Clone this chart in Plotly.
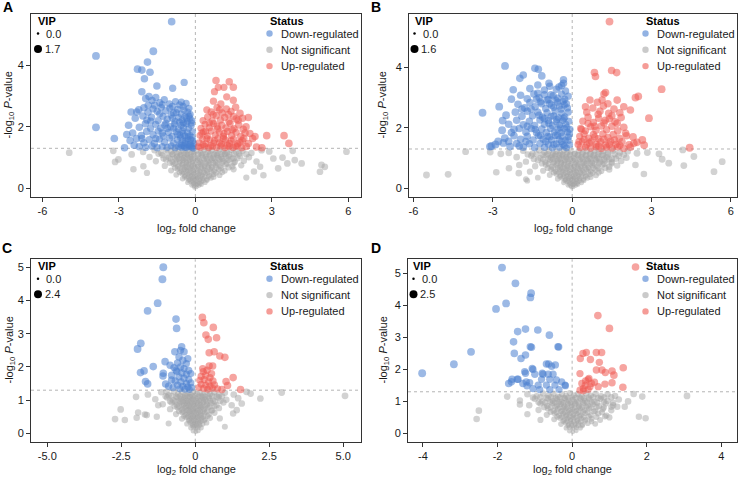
import plotly.graph_objects as go

# ---------------- data: (log2 fold change, -log10 P, VIP) ----------------
A_down = [
(-0.93,5.41,1.5),(-3.90,4.30,1.6),(-1.65,4.45,1.6),(-1.88,4.10,1.5),(-2.27,3.87,1.5),(-2.10,3.84,1.5),(-1.78,3.77,1.5),(-2.00,3.56,1.4),
(-0.44,3.44,1.3),(-0.89,3.25,1.3),(-2.10,3.14,1.4),(-1.51,3.32,1.4),(-3.90,1.98,1.6),(-3.18,1.62,1.5),(-2.78,1.32,1.5),(-2.69,1.75,1.5),
(-2.52,2.48,1.5),(-2.30,2.48,1.4),
(-1.95,2.92,1.4),(-1.82,2.98,1.4),(-1.70,2.85,1.4),(-1.55,2.95,1.3),(-1.40,2.78,1.3),(-1.22,2.88,1.3),(-1.02,2.74,1.3),(-0.78,2.82,1.2),
(-0.62,2.71,1.2),(-0.48,2.66,1.2),(-0.36,2.76,1.2),
(-2.22,2.55,1.4),(-2.02,2.62,1.4),(-1.86,2.47,1.4),(-1.66,2.58,1.3),(-1.50,2.50,1.3),(-1.34,2.63,1.3),(-1.16,2.52,1.3),(-1.00,2.60,1.3),
(-0.86,2.45,1.2),(-0.70,2.57,1.2),(-0.56,2.42,1.2),(-0.44,2.54,1.2),(-0.30,2.48,1.2),(-0.20,2.40,1.1),
(-2.36,2.28,1.4),(-2.06,2.35,1.4),(-1.90,2.22,1.4),(-1.72,2.31,1.3),(-1.46,2.20,1.3),(-1.27,2.34,1.3),(-1.10,2.25,1.3),(-0.95,2.38,1.3),
(-0.80,2.18,1.2),(-0.66,2.30,1.2),(-0.52,2.22,1.2),(-0.41,2.33,1.2),(-0.31,2.17,1.2),(-0.21,2.27,1.1),(-0.13,2.20,1.1),
(-2.62,2.05,1.5),(-2.20,1.98,1.4),(-1.96,2.10,1.4),(-1.76,1.95,1.3),(-1.56,2.08,1.3),(-1.36,1.96,1.3),(-1.16,2.12,1.3),(-0.97,2.00,1.3),
(-0.82,2.09,1.2),(-0.67,1.93,1.2),(-0.56,2.05,1.2),(-0.46,1.97,1.2),(-0.36,2.10,1.2),(-0.26,1.94,1.1),(-0.16,2.04,1.1),
(-2.46,1.80,1.4),(-2.12,1.72,1.4),(-1.91,1.85,1.4),(-1.66,1.74,1.3),(-1.46,1.86,1.3),(-1.26,1.70,1.3),(-1.06,1.82,1.3),(-0.91,1.69,1.2),
(-0.76,1.84,1.2),(-0.61,1.73,1.2),(-0.51,1.86,1.2),(-0.41,1.70,1.2),(-0.31,1.81,1.1),(-0.21,1.72,1.1),(-0.11,1.84,1.1),
(-2.56,1.55,1.5),(-2.31,1.62,1.4),(-2.02,1.48,1.4),(-1.81,1.58,1.3),(-1.61,1.46,1.3),(-1.41,1.60,1.3),(-1.21,1.50,1.3),(-1.01,1.63,1.2),
(-0.86,1.47,1.2),(-0.71,1.58,1.2),(-0.60,1.44,1.2),(-0.50,1.56,1.2),(-0.40,1.47,1.1),(-0.30,1.60,1.1),(-0.20,1.45,1.1),(-0.10,1.55,1.1),
(-2.20,1.35,1.4),(-1.95,1.33,1.3),(-1.70,1.37,1.3),(-1.50,1.32,1.3),(-1.30,1.36,1.2),(-1.10,1.33,1.2),(-0.95,1.38,1.2),(-0.80,1.32,1.2),
(-0.66,1.36,1.2),(-0.55,1.33,1.1),(-0.45,1.38,1.1),(-0.35,1.32,1.1),(-0.25,1.36,1.1),(-0.15,1.33,1.1),(-0.08,1.37,1.0),
(-1.60,2.70,1.3),(-1.30,2.72,1.3),(-0.90,2.66,1.3),(-0.55,2.80,1.2),(-0.25,2.60,1.2),(-0.58,1.65,1.2),(-0.48,1.78,1.2),(-0.38,1.55,1.1),
(-0.28,1.68,1.1),(-0.18,1.58,1.1),(-0.12,1.65,1.1),(-0.05,1.45,1.0),(-0.62,2.15,1.2),(-0.47,2.12,1.2),(-0.35,2.28,1.2),(-0.25,2.35,1.1),
(-0.15,2.12,1.1),(-0.55,1.40,1.1),(-0.42,1.33,1.1),(-0.30,1.42,1.1),(-0.18,1.38,1.1),(-0.08,1.30,1.0),(-0.70,1.75,1.2),(-0.85,1.95,1.2),
(-1.10,1.95,1.3),(-1.30,1.80,1.3),(-1.55,1.62,1.3),(-1.75,2.18,1.3),(-1.40,2.42,1.3),(-1.85,2.70,1.4),(-2.10,1.62,1.4),(-2.40,1.40,1.4),
(-1.20,2.05,1.3),(-0.90,2.28,1.2),(-0.75,2.46,1.2),
]
A_up = [
(0.81,3.50,1.4),(1.33,3.46,1.4),(1.49,3.28,1.4),(0.90,3.28,1.3),(1.12,3.28,1.3),(0.75,3.14,1.3),(1.23,2.97,1.3),(0.71,2.83,1.3),
(1.00,2.74,1.3),(1.49,2.86,1.3),(2.08,2.30,1.4),(1.99,2.00,1.4),(2.14,1.78,1.4),(2.80,1.71,1.5),(3.48,1.71,1.5),(3.67,1.46,1.5),
(2.61,1.32,1.5),(2.34,1.68,1.4),(2.08,1.46,1.4),
(0.45,2.55,1.3),(0.62,2.48,1.3),(0.85,2.62,1.3),(1.05,2.45,1.3),(1.22,2.58,1.3),(1.40,2.50,1.3),(1.58,2.63,1.4),(1.75,2.44,1.4),
(0.30,2.20,1.2),(0.48,2.32,1.2),(0.66,2.18,1.3),(0.82,2.36,1.3),(0.98,2.22,1.3),(1.15,2.30,1.3),(1.32,2.17,1.3),(1.50,2.34,1.3),(1.68,2.21,1.4),(1.85,2.28,1.4),
(0.22,1.95,1.2),(0.38,2.08,1.2),(0.55,1.97,1.2),(0.72,2.10,1.3),(0.88,1.93,1.3),(1.04,2.05,1.3),(1.20,1.96,1.3),(1.36,2.11,1.3),(1.52,1.94,1.3),(1.70,2.06,1.4),(1.88,1.92,1.4),
(0.18,1.72,1.1),(0.32,1.84,1.2),(0.47,1.70,1.2),(0.62,1.86,1.2),(0.78,1.73,1.2),(0.94,1.83,1.3),(1.10,1.69,1.3),(1.26,1.85,1.3),(1.42,1.72,1.3),(1.60,1.82,1.3),(1.78,1.68,1.4),(1.95,1.80,1.4),
(0.15,1.48,1.1),(0.28,1.60,1.1),(0.42,1.45,1.2),(0.57,1.58,1.2),(0.72,1.47,1.2),(0.88,1.62,1.2),(1.03,1.44,1.2),(1.18,1.57,1.3),(1.34,1.46,1.3),(1.50,1.60,1.3),(1.66,1.45,1.3),(1.84,1.55,1.4),(2.25,1.62,1.4),
(0.20,1.33,1.1),(0.36,1.37,1.1),(0.52,1.32,1.1),(0.68,1.36,1.2),(0.84,1.33,1.2),(1.00,1.38,1.2),(1.16,1.32,1.2),(1.32,1.36,1.2),(1.48,1.33,1.3),(1.64,1.37,1.3),(1.82,1.32,1.3),(2.00,1.36,1.4),(2.40,1.34,1.4),
(0.30,1.42,1.1),(0.45,1.62,1.2),(0.60,1.38,1.2),(0.75,1.55,1.2),(0.95,1.48,1.2),(1.10,1.62,1.3),(1.25,1.40,1.3),(1.40,1.55,1.3),
(1.58,1.38,1.3),(1.75,1.50,1.3),(0.40,1.85,1.2),(0.55,2.12,1.2),(0.85,2.02,1.3),(1.12,1.78,1.3),(1.45,1.90,1.3),(1.60,2.25,1.4),
(0.70,2.40,1.3),(1.30,2.40,1.3),(0.95,2.55,1.3),(1.90,1.62,1.4),(0.25,1.80,1.1),(0.12,1.35,1.1),
]
A_ns = [
(-2.05,1.18,0.9),(-1.60,1.24,0.9),(-1.35,1.15,0.8),(-1.15,1.26,0.8),(-0.95,1.19,0.8),(-0.80,1.27,0.8),(-0.65,1.16,0.8),(-0.50,1.23,0.8),
(-0.38,1.14,0.7),(-0.25,1.25,0.7),(-0.12,1.18,0.7),(0.05,1.22,0.7),(0.20,1.15,0.7),(0.35,1.26,0.8),(0.50,1.19,0.8),(0.65,1.24,0.8),
(0.80,1.14,0.8),(0.95,1.27,0.8),(1.10,1.20,0.8),(1.25,1.16,0.8),(1.40,1.25,0.9),(1.60,1.18,0.9),(1.85,1.22,0.9),(2.20,1.15,0.9),(2.60,1.24,1.0),
(-1.80,1.02,0.9),(-1.30,1.08,0.8),(-1.05,1.00,0.8),(-0.88,1.10,0.8),(-0.72,1.03,0.8),(-0.58,1.07,0.7),(-0.45,0.99,0.7),(-0.32,1.09,0.7),
(-0.20,1.02,0.7),(-0.08,1.06,0.6),(0.10,1.00,0.6),(0.25,1.09,0.7),(0.40,1.03,0.7),(0.55,1.07,0.7),(0.70,0.99,0.8),(0.85,1.08,0.8),
(1.00,1.02,0.8),(1.15,1.10,0.8),(1.30,1.04,0.8),(1.50,0.98,0.9),(1.75,1.06,0.9),(2.10,1.01,0.9),
(-1.55,0.88,0.8),(-1.15,0.93,0.8),(-0.90,0.86,0.7),(-0.75,0.94,0.7),(-0.60,0.87,0.7),(-0.46,0.92,0.7),(-0.34,0.85,0.6),(-0.22,0.93,0.6),
(-0.10,0.88,0.6),(0.08,0.92,0.6),(0.20,0.85,0.6),(0.35,0.94,0.7),(0.50,0.87,0.7),(0.65,0.91,0.7),(0.80,0.85,0.7),(0.95,0.93,0.8),
(1.10,0.88,0.8),(1.30,0.92,0.8),(1.55,0.86,0.8),(1.90,0.90,0.9),(2.40,0.87,0.9),
(-1.20,0.73,0.8),(-0.85,0.78,0.7),(-0.68,0.71,0.7),(-0.52,0.77,0.6),(-0.40,0.70,0.6),(-0.28,0.78,0.6),(-0.16,0.72,0.5),(-0.05,0.76,0.5),
(0.10,0.71,0.5),(0.22,0.78,0.6),(0.36,0.72,0.6),(0.50,0.77,0.6),(0.64,0.70,0.7),(0.80,0.76,0.7),(0.98,0.72,0.7),(1.20,0.78,0.8),(1.45,0.71,0.8),(1.80,0.75,0.8),
(-0.95,0.58,0.7),(-0.70,0.63,0.7),(-0.55,0.56,0.6),(-0.42,0.62,0.6),(-0.30,0.57,0.5),(-0.19,0.63,0.5),(-0.08,0.58,0.5),(0.06,0.62,0.5),
(0.18,0.56,0.5),(0.30,0.63,0.5),(0.44,0.57,0.6),(0.58,0.62,0.6),(0.74,0.56,0.6),(0.92,0.61,0.7),(1.15,0.57,0.7),(1.50,0.62,0.8),
(-0.75,0.44,0.6),(-0.52,0.48,0.6),(-0.40,0.42,0.5),(-0.28,0.47,0.5),(-0.17,0.43,0.4),(-0.07,0.48,0.4),(0.05,0.42,0.4),(0.15,0.47,0.4),
(0.27,0.43,0.5),(0.40,0.48,0.5),(0.55,0.42,0.5),(0.72,0.46,0.6),(0.95,0.43,0.6),
(-0.50,0.31,0.5),(-0.34,0.34,0.5),(-0.22,0.29,0.4),(-0.12,0.33,0.4),(-0.03,0.30,0.3),(0.08,0.34,0.3),(0.18,0.29,0.4),(0.30,0.33,0.4),(0.45,0.30,0.5),(0.62,0.34,0.5),
(-0.30,0.19,0.4),(-0.18,0.22,0.4),(-0.08,0.18,0.3),(0.03,0.21,0.3),(0.12,0.18,0.3),(0.24,0.22,0.4),(0.38,0.19,0.4),
(-0.15,0.10,0.3),(-0.05,0.08,0.3),(0.05,0.11,0.3),(0.14,0.09,0.3),(0.24,0.12,0.3),(-0.04,0.03,0.2),(0.04,0.04,0.2),
(-1.45,1.12,0.8),(-1.10,1.13,0.8),(-0.90,1.11,0.8),(-0.72,1.13,0.8),(-0.57,1.10,0.7),(-0.44,1.13,0.7),(-0.31,1.11,0.7),(-0.18,1.12,0.7),
(-0.05,1.13,0.7),(0.12,1.11,0.7),(0.28,1.13,0.7),(0.42,1.11,0.7),(0.58,1.13,0.8),(0.73,1.10,0.8),(0.88,1.13,0.8),(1.03,1.11,0.8),
(1.18,1.13,0.8),(1.34,1.10,0.8),(1.52,1.12,0.9),(1.72,1.13,0.9),(2.00,1.11,0.9),
(-1.25,0.97,0.8),(-0.98,0.96,0.7),(-0.80,0.98,0.7),(-0.66,0.96,0.7),(-0.52,0.97,0.7),(-0.39,0.96,0.6),(-0.27,0.98,0.6),(-0.14,0.96,0.6),
(-0.02,0.97,0.6),(0.15,0.96,0.6),(0.30,0.98,0.6),(0.45,0.96,0.7),(0.60,0.97,0.7),(0.75,0.96,0.7),(0.90,0.98,0.8),(1.06,0.96,0.8),(1.22,0.97,0.8),(1.42,0.96,0.8),(1.65,0.98,0.9),
(-1.00,0.82,0.7),(-0.78,0.81,0.7),(-0.63,0.83,0.6),(-0.49,0.81,0.6),(-0.36,0.82,0.6),(-0.24,0.81,0.5),(-0.12,0.83,0.5),(0.00,0.81,0.5),
(0.14,0.82,0.5),(0.28,0.81,0.6),(0.42,0.83,0.6),(0.56,0.81,0.6),(0.71,0.82,0.7),(0.87,0.81,0.7),(1.05,0.83,0.7),(1.25,0.81,0.8),(1.50,0.82,0.8),
(-0.80,0.67,0.7),(-0.60,0.66,0.6),(-0.47,0.68,0.6),(-0.35,0.66,0.5),(-0.24,0.67,0.5),(-0.13,0.66,0.5),(-0.02,0.68,0.5),(0.12,0.66,0.5),
(0.24,0.67,0.5),(0.37,0.66,0.6),(0.50,0.68,0.6),(0.65,0.66,0.6),(0.82,0.67,0.7),(1.02,0.66,0.7),(1.30,0.68,0.8),
(-0.62,0.52,0.6),(-0.46,0.51,0.5),(-0.34,0.53,0.5),(-0.23,0.51,0.5),(-0.12,0.52,0.4),(-0.02,0.51,0.4),(0.10,0.53,0.4),(0.21,0.51,0.5),
(0.34,0.52,0.5),(0.48,0.51,0.5),(0.63,0.53,0.6),(0.82,0.51,0.6),(1.05,0.52,0.7),
(-0.42,0.38,0.5),(-0.28,0.37,0.5),(-0.17,0.39,0.4),(-0.07,0.37,0.4),(0.02,0.38,0.3),(0.12,0.37,0.4),(0.23,0.39,0.4),(0.36,0.37,0.5),(0.52,0.38,0.5),(0.72,0.37,0.6),
(-0.26,0.26,0.4),(-0.13,0.25,0.4),(-0.03,0.27,0.3),(0.07,0.25,0.3),(0.17,0.26,0.3),(0.30,0.25,0.4),(0.46,0.26,0.4),
(-0.10,0.14,0.3),(0.00,0.15,0.3),(0.09,0.13,0.3),(0.19,0.15,0.3),
(-4.95,1.16,1.0),(-3.22,1.22,1.0),(-3.02,0.94,1.0),(-3.15,0.86,1.0),(-2.43,0.62,0.9),(-2.04,0.72,0.9),(-2.50,1.10,1.0),(-1.90,0.50,0.8),
(3.06,0.97,1.0),(3.42,1.00,1.0),(3.61,0.81,1.0),(3.82,1.22,1.0),(3.90,0.92,1.0),(4.17,0.81,1.0),(4.89,0.54,1.0),(4.95,0.76,1.0),
(5.08,0.70,1.0),(5.93,1.19,1.0),(3.25,0.65,1.0),(2.67,0.43,0.9),(2.54,0.70,0.9),(2.90,1.20,1.0),(2.30,0.55,0.9),(2.00,0.35,0.8),
]

B_down = [
(-2.54,4.05,1.5),(-1.41,3.97,1.4),(-1.28,3.94,1.4),(-1.85,3.75,1.4),(-1.98,3.64,1.4),(-1.15,3.72,1.4),(-0.33,3.59,1.3),(-0.33,3.48,1.3),
(-2.23,3.26,1.4),(-0.88,3.48,1.3),(-3.39,2.50,1.5),(-2.76,2.70,1.5),(-2.63,2.24,1.5),(-3.05,1.40,1.5),(-2.80,1.55,1.5),(-3.11,1.38,1.5),
(-1.60,3.30,1.4),(-1.30,3.42,1.3),(-1.05,3.25,1.3),(-0.85,3.38,1.3),(-0.60,3.28,1.3),(-0.40,3.40,1.3),(-0.25,3.22,1.2),
(-2.30,2.95,1.4),(-1.95,3.08,1.4),(-1.70,2.96,1.4),(-1.45,3.12,1.3),(-1.25,3.00,1.3),(-1.05,3.10,1.3),(-0.90,2.94,1.3),(-0.72,3.06,1.3),(-0.55,2.98,1.2),(-0.40,3.12,1.2),(-0.28,2.95,1.2),(-0.15,3.05,1.2),
(-2.05,2.78,1.4),(-1.80,2.66,1.4),(-1.60,2.84,1.3),(-1.40,2.70,1.3),(-1.20,2.86,1.3),(-1.00,2.64,1.3),(-0.85,2.80,1.3),(-0.70,2.68,1.2),(-0.55,2.85,1.2),(-0.42,2.62,1.2),(-0.30,2.76,1.2),(-0.18,2.66,1.2),
(-2.50,2.42,1.5),(-2.15,2.52,1.4),(-1.90,2.38,1.4),(-1.70,2.55,1.3),(-1.50,2.40,1.3),(-1.30,2.52,1.3),(-1.12,2.35,1.3),(-0.95,2.50,1.3),(-0.80,2.38,1.2),(-0.65,2.56,1.2),(-0.52,2.34,1.2),(-0.40,2.48,1.2),(-0.28,2.36,1.2),(-0.15,2.52,1.1),
(-2.40,2.12,1.4),(-2.10,2.25,1.4),(-1.85,2.10,1.4),(-1.62,2.22,1.3),(-1.42,2.08,1.3),(-1.22,2.26,1.3),(-1.05,2.12,1.3),(-0.90,2.24,1.3),(-0.75,2.08,1.2),(-0.60,2.20,1.2),(-0.48,2.10,1.2),(-0.36,2.24,1.2),(-0.24,2.12,1.1),(-0.12,2.22,1.1),
(-2.65,1.92,1.5),(-2.30,1.84,1.4),(-2.00,1.98,1.4),(-1.75,1.86,1.4),(-1.55,1.98,1.3),(-1.35,1.84,1.3),(-1.15,1.96,1.3),(-0.98,1.85,1.3),(-0.82,1.98,1.2),(-0.68,1.86,1.2),(-0.55,1.96,1.2),(-0.42,1.84,1.2),(-0.30,1.97,1.2),(-0.18,1.86,1.1),(-0.08,1.95,1.1),
(-2.55,1.66,1.5),(-2.20,1.74,1.4),(-1.95,1.62,1.4),(-1.70,1.72,1.3),(-1.48,1.60,1.3),(-1.28,1.74,1.3),(-1.10,1.62,1.3),(-0.92,1.72,1.2),(-0.78,1.60,1.2),(-0.64,1.75,1.2),(-0.50,1.62,1.2),(-0.38,1.73,1.2),(-0.26,1.60,1.1),(-0.14,1.70,1.1),
(-2.90,1.45,1.5),(-2.60,1.50,1.5),(-2.35,1.38,1.4),(-2.10,1.48,1.4),(-1.85,1.36,1.4),(-1.62,1.47,1.3),(-1.42,1.35,1.3),(-1.22,1.48,1.3),(-1.05,1.36,1.3),(-0.90,1.46,1.2),(-0.75,1.34,1.2),(-0.60,1.47,1.2),(-0.48,1.36,1.2),(-0.35,1.45,1.1),(-0.22,1.34,1.1),(-0.10,1.44,1.1),
(-1.35,2.95,1.3),(-1.15,2.80,1.3),(-0.95,2.92,1.3),(-0.78,2.75,1.3),(-0.62,2.92,1.2),(-0.48,2.72,1.2),(-0.35,2.88,1.2),(-0.22,2.80,1.2),
(-1.55,2.62,1.3),(-1.25,2.42,1.3),(-1.05,2.30,1.3),(-0.88,2.15,1.3),(-0.70,2.40,1.2),(-0.58,2.28,1.2),(-0.45,2.00,1.2),(-0.32,2.32,1.2),
(-0.20,2.02,1.1),(-1.40,1.95,1.3),(-1.20,1.75,1.3),(-1.00,1.55,1.3),(-0.85,1.70,1.2),(-0.70,1.45,1.2),(-0.55,1.75,1.2),(-0.40,1.55,1.2),
(-0.30,1.40,1.1),(-0.15,1.58,1.1),(-0.10,1.80,1.1),(-1.70,2.05,1.3),(-1.90,2.62,1.4),(-2.20,1.95,1.4),(-2.40,1.55,1.4),(-2.00,1.40,1.4),
(-1.75,1.55,1.3),(-1.30,3.15,1.3),(-0.80,3.10,1.3),(-0.50,3.35,1.3),
]
B_up = [
(1.41,5.52,1.5),(0.84,3.83,1.4),(0.88,3.70,1.4),(1.49,3.90,1.4),(1.68,3.83,1.4),(3.38,3.28,1.5),(1.26,3.17,1.4),(1.20,3.12,1.3),
(2.39,3.00,1.4),(2.50,3.04,1.4),(0.67,2.92,1.3),(1.13,2.92,1.3),(1.70,2.92,1.4),(1.95,2.70,1.4),(2.20,2.59,1.4),(2.90,2.32,1.5),
(2.65,1.60,1.5),(2.72,1.43,1.5),(4.44,1.34,1.5),(2.33,1.49,1.4),(2.02,1.82,1.4),
(0.55,2.52,1.3),(0.78,2.66,1.3),(0.98,2.45,1.3),(1.18,2.72,1.3),(1.38,2.48,1.3),(1.58,2.62,1.4),(1.80,2.50,1.4),
(0.40,2.22,1.2),(0.60,2.35,1.3),(0.80,2.18,1.3),(1.00,2.32,1.3),(1.20,2.16,1.3),(1.40,2.30,1.3),(1.62,2.20,1.4),(1.85,2.34,1.4),
(0.32,1.98,1.2),(0.50,1.90,1.2),(0.70,2.04,1.2),(0.90,1.92,1.3),(1.10,2.06,1.3),(1.30,1.94,1.3),(1.50,2.05,1.3),(1.72,1.90,1.4),(1.95,2.02,1.4),
(0.28,1.72,1.1),(0.45,1.80,1.2),(0.62,1.66,1.2),(0.80,1.78,1.2),(0.98,1.64,1.2),(1.16,1.80,1.3),(1.35,1.68,1.3),(1.55,1.78,1.3),(1.78,1.65,1.4),(2.05,1.74,1.4),
(0.22,1.45,1.1),(0.38,1.55,1.1),(0.55,1.44,1.2),(0.72,1.56,1.2),(0.90,1.46,1.2),(1.08,1.54,1.2),(1.26,1.43,1.3),(1.45,1.56,1.3),(1.65,1.45,1.3),(1.88,1.54,1.4),(2.15,1.44,1.4),(2.45,1.52,1.4),
(0.30,1.34,1.1),(0.50,1.36,1.1),(0.70,1.33,1.2),(0.90,1.37,1.2),(1.10,1.32,1.2),(1.30,1.36,1.2),(1.50,1.33,1.3),(1.72,1.37,1.3),(1.95,1.32,1.3),(2.20,1.36,1.4),
(0.45,1.62,1.2),(0.65,1.50,1.2),(0.85,1.70,1.2),(1.00,1.40,1.2),(1.20,1.62,1.3),(1.40,1.45,1.3),(1.60,1.60,1.3),(1.80,1.42,1.3),
(0.35,1.95,1.2),(0.60,2.15,1.2),(0.85,2.05,1.3),(1.05,2.55,1.3),(1.25,2.25,1.3),(1.50,2.40,1.3),(1.70,2.15,1.4),(0.95,2.85,1.3),
(1.35,2.80,1.3),(0.50,2.70,1.3),(0.25,1.55,1.1),(2.30,1.70,1.4),
]
B_ns = [
(-2.40,1.17,0.9),(-1.85,1.24,0.9),(-1.50,1.15,0.8),(-1.25,1.26,0.8),(-1.05,1.18,0.8),(-0.88,1.25,0.8),(-0.72,1.14,0.8),(-0.58,1.22,0.8),
(-0.45,1.16,0.7),(-0.32,1.26,0.7),(-0.18,1.19,0.7),(-0.06,1.23,0.7),(0.10,1.15,0.7),(0.25,1.25,0.7),(0.40,1.18,0.8),(0.55,1.24,0.8),
(0.70,1.15,0.8),(0.85,1.26,0.8),(1.00,1.19,0.8),(1.18,1.23,0.8),(1.35,1.16,0.9),(1.55,1.25,0.9),(1.80,1.18,0.9),(2.10,1.22,0.9),(2.45,1.16,1.0),
(-2.10,1.03,0.9),(-1.55,1.08,0.8),(-1.20,1.00,0.8),(-0.98,1.09,0.8),(-0.80,1.02,0.8),(-0.65,1.07,0.7),(-0.50,0.99,0.7),(-0.37,1.09,0.7),
(-0.24,1.02,0.7),(-0.12,1.06,0.6),(0.05,1.00,0.6),(0.20,1.09,0.7),(0.35,1.02,0.7),(0.50,1.07,0.7),(0.65,0.99,0.7),(0.80,1.08,0.8),
(0.95,1.01,0.8),(1.12,1.09,0.8),(1.30,1.03,0.8),(1.50,0.98,0.9),(1.75,1.07,0.9),(2.05,1.01,0.9),
(-1.75,0.88,0.8),(-1.30,0.93,0.8),(-1.02,0.86,0.7),(-0.84,0.94,0.7),(-0.68,0.87,0.7),(-0.53,0.92,0.7),(-0.40,0.85,0.6),(-0.27,0.93,0.6),
(-0.14,0.88,0.6),(0.03,0.92,0.6),(0.16,0.85,0.6),(0.30,0.94,0.6),(0.45,0.87,0.7),(0.60,0.91,0.7),(0.75,0.85,0.7),(0.90,0.93,0.7),
(1.06,0.88,0.8),(1.25,0.92,0.8),(1.50,0.86,0.8),(1.85,0.90,0.9),
(-1.40,0.73,0.8),(-1.00,0.78,0.7),(-0.78,0.71,0.7),(-0.60,0.77,0.6),(-0.46,0.70,0.6),(-0.33,0.78,0.6),(-0.20,0.72,0.5),(-0.08,0.76,0.5),
(0.07,0.71,0.5),(0.19,0.78,0.5),(0.32,0.72,0.6),(0.46,0.77,0.6),(0.60,0.70,0.6),(0.76,0.76,0.7),(0.94,0.72,0.7),(1.15,0.78,0.7),(1.40,0.71,0.8),(1.70,0.75,0.8),
(-1.10,0.58,0.7),(-0.80,0.63,0.7),(-0.62,0.56,0.6),(-0.47,0.62,0.6),(-0.34,0.57,0.5),(-0.22,0.63,0.5),(-0.10,0.58,0.5),(0.04,0.62,0.5),
(0.15,0.56,0.5),(0.27,0.63,0.5),(0.40,0.57,0.5),(0.54,0.62,0.6),(0.70,0.56,0.6),(0.88,0.61,0.7),(1.10,0.57,0.7),(1.40,0.62,0.8),
(-0.85,0.44,0.6),(-0.60,0.48,0.6),(-0.45,0.42,0.5),(-0.32,0.47,0.5),(-0.20,0.43,0.4),(-0.09,0.48,0.4),(0.03,0.42,0.4),(0.13,0.47,0.4),
(0.25,0.43,0.5),(0.37,0.48,0.5),(0.52,0.42,0.5),(0.68,0.46,0.6),(0.90,0.43,0.6),
(-0.55,0.31,0.5),(-0.38,0.34,0.5),(-0.25,0.29,0.4),(-0.14,0.33,0.4),(-0.04,0.30,0.3),(0.06,0.34,0.3),(0.16,0.29,0.4),(0.28,0.33,0.4),(0.42,0.30,0.5),(0.58,0.34,0.5),
(-0.32,0.19,0.4),(-0.20,0.22,0.4),(-0.09,0.18,0.3),(0.02,0.21,0.3),(0.11,0.18,0.3),(0.22,0.22,0.4),(0.35,0.19,0.4),
(-0.16,0.10,0.3),(-0.06,0.08,0.3),(0.04,0.11,0.3),(0.13,0.09,0.3),(0.22,0.12,0.3),(-0.03,0.03,0.2),(0.04,0.04,0.2),
(-1.68,1.12,0.8),(-1.35,1.13,0.8),(-1.12,1.11,0.8),(-0.93,1.13,0.8),(-0.76,1.10,0.7),(-0.62,1.13,0.7),(-0.49,1.11,0.7),(-0.36,1.12,0.7),
(-0.22,1.13,0.7),(-0.08,1.11,0.7),(0.08,1.13,0.7),(0.23,1.11,0.7),(0.38,1.13,0.7),(0.53,1.10,0.8),(0.68,1.13,0.8),(0.83,1.11,0.8),
(0.99,1.13,0.8),(1.16,1.10,0.8),(1.35,1.12,0.9),(1.60,1.13,0.9),(1.95,1.11,0.9),
(-1.45,0.97,0.8),(-1.10,0.96,0.7),(-0.90,0.98,0.7),(-0.73,0.96,0.7),(-0.58,0.97,0.7),(-0.45,0.96,0.6),(-0.32,0.98,0.6),(-0.19,0.96,0.6),
(-0.06,0.97,0.6),(0.10,0.96,0.6),(0.25,0.98,0.6),(0.40,0.96,0.7),(0.55,0.97,0.7),(0.70,0.96,0.7),(0.86,0.98,0.8),(1.02,0.96,0.8),(1.20,0.97,0.8),(1.40,0.96,0.8),(1.65,0.98,0.9),
(-1.15,0.82,0.7),(-0.90,0.81,0.7),(-0.72,0.83,0.6),(-0.56,0.81,0.6),(-0.42,0.82,0.6),(-0.29,0.81,0.5),(-0.16,0.83,0.5),(-0.03,0.81,0.5),
(0.11,0.82,0.5),(0.25,0.81,0.6),(0.39,0.83,0.6),(0.53,0.81,0.6),(0.68,0.82,0.7),(0.84,0.81,0.7),(1.02,0.83,0.7),(1.22,0.81,0.8),(1.48,0.82,0.8),
(-0.92,0.67,0.7),(-0.70,0.66,0.6),(-0.54,0.68,0.6),(-0.40,0.66,0.5),(-0.28,0.67,0.5),(-0.16,0.66,0.5),(-0.04,0.68,0.5),(0.10,0.66,0.5),
(0.22,0.67,0.5),(0.35,0.66,0.6),(0.48,0.68,0.6),(0.63,0.66,0.6),(0.80,0.67,0.7),(1.00,0.66,0.7),(1.25,0.68,0.8),
(-0.70,0.52,0.6),(-0.52,0.51,0.5),(-0.39,0.53,0.5),(-0.26,0.51,0.5),(-0.15,0.52,0.4),(-0.04,0.51,0.4),(0.08,0.53,0.4),(0.19,0.51,0.5),
(0.31,0.52,0.5),(0.45,0.51,0.5),(0.60,0.53,0.6),(0.78,0.51,0.6),(1.00,0.52,0.7),
(-0.46,0.38,0.5),(-0.31,0.37,0.5),(-0.19,0.39,0.4),(-0.09,0.37,0.4),(0.01,0.38,0.3),(0.11,0.37,0.4),(0.22,0.39,0.4),(0.34,0.37,0.5),(0.50,0.38,0.5),(0.70,0.37,0.6),
(-0.27,0.26,0.4),(-0.14,0.25,0.4),(-0.04,0.27,0.3),(0.06,0.25,0.3),(0.16,0.26,0.3),(0.28,0.25,0.4),(0.44,0.26,0.4),
(-0.11,0.14,0.3),(-0.01,0.15,0.3),(0.08,0.13,0.3),(0.18,0.15,0.3),
(-1.60,0.55,0.7),(-1.30,0.35,0.6),(-1.75,0.30,0.6),
(-5.51,0.44,1.0),(-4.69,0.46,1.0),(-4.03,1.21,1.0),(-2.87,0.53,0.9),(-2.39,0.66,0.9),(-2.02,0.50,0.9),(-2.00,0.77,0.9),(-2.70,1.14,1.0),
(5.67,0.88,1.0),(5.36,0.55,1.0),(4.60,1.05,1.0),(4.22,0.75,1.0),(3.65,0.83,1.0),(3.40,0.96,1.0),(3.28,1.14,1.0),(2.84,1.18,1.0),
(2.39,0.77,0.9),(2.71,0.47,0.9),(4.18,1.27,1.0),(-3.10,1.20,1.0),(-1.70,0.25,0.6),
]

C_down = [
(-1.08,5.00,2.3),(-1.11,4.64,2.3),(-1.27,3.92,2.2),(-1.61,3.69,2.2),(-0.65,3.44,2.1),(-0.63,3.16,2.1),(-1.84,2.71,2.2),(-1.95,2.54,2.2),
(-0.46,2.61,2.0),(-0.38,2.46,2.0),(-0.69,2.46,2.0),(-1.02,2.16,2.0),(-1.42,2.01,2.1),(-1.73,1.88,2.1),(-1.85,1.83,2.1),(-1.08,1.81,2.0),
(-1.09,1.73,2.0),(-1.68,1.56,2.1),(-1.61,1.49,2.1),(-1.00,1.49,2.0),(-0.80,1.61,1.9),
(-0.55,2.30,1.9),(-0.42,2.20,1.9),(-0.60,2.12,1.9),(-0.30,2.10,1.8),(-0.50,2.00,1.9),(-0.72,1.98,1.9),(-0.38,1.95,1.8),(-0.22,1.90,1.8),
(-0.62,1.86,1.9),(-0.45,1.82,1.8),(-0.30,1.78,1.8),(-0.15,1.80,1.7),(-0.80,1.75,1.9),(-0.55,1.70,1.8),(-0.38,1.66,1.8),(-0.22,1.62,1.7),
(-0.68,1.58,1.8),(-0.48,1.55,1.8),(-0.30,1.50,1.7),(-0.15,1.52,1.7),(-0.60,1.45,1.8),(-0.42,1.42,1.7),(-0.25,1.40,1.7),(-0.12,1.38,1.6),
(-0.75,1.38,1.8),(-0.52,1.34,1.7),(-0.35,1.33,1.7),(-0.20,1.32,1.6),(-0.90,1.42,1.9),(-0.65,1.90,1.9),(-0.85,2.05,1.9),(-0.25,2.25,1.8),(-0.50,2.50,1.9),
]
C_up = [
(0.24,3.49,2.1),(0.29,3.33,2.1),(0.61,3.19,2.1),(0.36,2.96,2.0),(0.44,2.83,2.0),(0.72,2.88,2.1),(0.47,2.43,2.0),(0.64,2.46,2.0),
(0.83,2.33,2.0),(1.00,2.29,2.1),(0.47,2.03,1.9),(0.59,2.03,1.9),(1.28,1.68,2.1),(1.04,1.56,2.0),(1.09,1.44,2.0),(1.53,1.32,2.1),(0.27,1.86,1.9),
(0.20,1.72,1.8),(0.35,1.75,1.8),(0.50,1.68,1.8),(0.15,1.60,1.7),(0.30,1.62,1.8),(0.45,1.55,1.8),(0.60,1.58,1.8),(0.20,1.48,1.7),
(0.35,1.45,1.7),(0.50,1.42,1.8),(0.65,1.46,1.8),(0.12,1.38,1.6),(0.28,1.35,1.7),(0.42,1.33,1.7),(0.58,1.36,1.8),(0.75,1.34,1.8),
(0.90,1.32,1.9),(0.40,1.90,1.9),(0.55,1.80,1.9),(0.25,1.95,1.8),
]
C_ns = [
(-1.60,1.17,1.4),(-1.15,1.24,1.3),(-0.90,1.15,1.3),(-0.72,1.26,1.3),(-0.58,1.18,1.2),(-0.45,1.25,1.2),(-0.34,1.14,1.2),(-0.24,1.22,1.1),
(-0.14,1.16,1.1),(-0.05,1.26,1.1),(0.06,1.19,1.1),(0.16,1.23,1.1),(0.27,1.15,1.2),(0.38,1.25,1.2),(0.50,1.18,1.2),(0.64,1.24,1.3),(0.80,1.15,1.3),(1.00,1.22,1.3),(1.30,1.17,1.4),
(-1.35,1.03,1.3),(-0.95,1.08,1.3),(-0.75,1.00,1.2),(-0.60,1.09,1.2),(-0.48,1.02,1.2),(-0.37,1.07,1.1),(-0.27,0.99,1.1),(-0.18,1.09,1.1),
(-0.09,1.02,1.0),(0.03,1.06,1.0),(0.13,1.00,1.0),(0.23,1.09,1.1),(0.34,1.02,1.1),(0.46,1.07,1.2),(0.60,0.99,1.2),(0.78,1.08,1.2),(1.05,1.01,1.3),(1.45,1.06,1.4),
(-1.10,0.88,1.3),(-0.80,0.93,1.2),(-0.62,0.86,1.2),(-0.50,0.94,1.1),(-0.39,0.87,1.1),(-0.29,0.92,1.1),(-0.20,0.85,1.0),(-0.11,0.93,1.0),
(-0.02,0.88,0.9),(0.08,0.92,0.9),(0.18,0.85,1.0),(0.28,0.94,1.0),(0.40,0.87,1.1),(0.54,0.91,1.1),(0.72,0.85,1.2),(0.95,0.93,1.3),
(-0.85,0.73,1.2),(-0.60,0.78,1.1),(-0.46,0.71,1.1),(-0.36,0.77,1.0),(-0.26,0.70,1.0),(-0.17,0.78,0.9),(-0.08,0.72,0.9),(0.02,0.76,0.9),
(0.11,0.71,0.9),(0.20,0.78,0.9),(0.30,0.72,1.0),(0.42,0.77,1.0),(0.58,0.70,1.1),(0.80,0.76,1.2),
(-0.65,0.58,1.1),(-0.44,0.63,1.0),(-0.33,0.56,1.0),(-0.23,0.62,0.9),(-0.14,0.57,0.9),(-0.06,0.63,0.8),(0.04,0.58,0.8),(0.12,0.62,0.8),
(0.21,0.56,0.9),(0.32,0.63,0.9),(0.46,0.57,1.0),(0.65,0.62,1.1),
(-0.45,0.44,1.0),(-0.30,0.48,0.9),(-0.20,0.42,0.8),(-0.12,0.47,0.8),(-0.04,0.43,0.7),(0.05,0.48,0.7),(0.13,0.42,0.8),(0.22,0.47,0.8),(0.33,0.43,0.9),(0.50,0.46,1.0),
(-0.28,0.29,0.8),(-0.17,0.33,0.7),(-0.09,0.28,0.7),(-0.01,0.32,0.6),(0.07,0.29,0.6),(0.15,0.33,0.7),(0.25,0.28,0.7),(0.38,0.32,0.8),
(-0.15,0.17,0.6),(-0.06,0.20,0.6),(0.02,0.16,0.5),(0.10,0.19,0.6),(0.20,0.17,0.6),(-0.07,0.07,0.5),(0.02,0.05,0.4),(0.10,0.08,0.5),
(-1.00,1.12,1.3),(-0.80,1.13,1.2),(-0.64,1.11,1.2),(-0.51,1.13,1.2),(-0.40,1.10,1.1),(-0.29,1.13,1.1),(-0.19,1.11,1.1),(-0.10,1.12,1.0),
(0.00,1.13,1.0),(0.11,1.11,1.0),(0.21,1.13,1.1),(0.32,1.10,1.1),(0.44,1.12,1.2),(0.57,1.13,1.2),(0.72,1.11,1.2),(0.90,1.12,1.3),
(-0.85,0.97,1.2),(-0.68,0.96,1.2),(-0.55,0.98,1.1),(-0.43,0.96,1.1),(-0.33,0.97,1.0),(-0.23,0.96,1.0),(-0.14,0.98,1.0),(-0.04,0.96,0.9),
(0.07,0.97,0.9),(0.17,0.96,1.0),(0.27,0.98,1.0),(0.38,0.96,1.1),(0.50,0.97,1.1),(0.66,0.96,1.2),(0.85,0.98,1.2),
(-0.70,0.82,1.1),(-0.54,0.81,1.1),(-0.42,0.83,1.0),(-0.31,0.81,1.0),(-0.22,0.82,0.9),(-0.13,0.81,0.9),(-0.04,0.83,0.9),(0.05,0.81,0.8),
(0.15,0.82,0.9),(0.24,0.81,0.9),(0.35,0.83,1.0),(0.48,0.81,1.0),(0.65,0.82,1.1),
(-0.55,0.67,1.0),(-0.40,0.66,1.0),(-0.29,0.68,0.9),(-0.19,0.66,0.9),(-0.10,0.67,0.8),(-0.02,0.66,0.8),(0.08,0.68,0.8),(0.17,0.66,0.8),
(0.27,0.67,0.9),(0.39,0.66,0.9),(0.55,0.68,1.0),
(-0.38,0.52,0.9),(-0.25,0.51,0.8),(-0.16,0.53,0.8),(-0.08,0.51,0.7),(0.01,0.52,0.7),(0.09,0.51,0.7),(0.18,0.53,0.8),(0.28,0.51,0.8),(0.42,0.52,0.9),
(-0.22,0.38,0.7),(-0.13,0.37,0.7),(-0.05,0.39,0.6),(0.03,0.37,0.6),(0.11,0.38,0.6),(0.20,0.37,0.7),(0.31,0.39,0.7),
(-0.10,0.24,0.6),(-0.02,0.25,0.5),(0.06,0.23,0.5),(0.15,0.25,0.6),
(5.06,1.13,1.5),(2.92,1.23,1.5),(1.87,1.20,1.4),(1.73,1.25,1.4),(-2.52,0.72,1.4),(-2.71,0.43,1.4),(-2.38,0.40,1.3),(-1.93,0.63,1.3),
(-1.70,0.57,1.3),(-1.98,0.47,1.3),(1.23,0.85,1.3),(1.57,0.90,1.4),(1.28,0.60,1.3),(0.83,0.45,1.1),(-1.30,0.50,1.2),(-0.90,0.30,1.0),
(1.00,0.20,1.0),(-2.00,1.10,1.4),(2.20,1.05,1.4),(1.40,0.70,1.3),(-0.97,1.25,1.3),(-1.25,0.85,1.3),(-1.64,0.55,1.3),
]

D_down = [
(-1.88,5.18,2.4),(-1.52,4.69,2.3),(-1.10,4.38,2.3),(-1.12,4.25,2.3),(-1.77,4.06,2.3),(-2.04,3.89,2.3),(-1.25,3.26,2.2),(-0.92,3.23,2.2),
(-1.46,3.18,2.2),(-0.61,3.07,2.1),(-1.57,2.86,2.2),(-1.12,2.71,2.1),(-1.09,2.69,2.1),(-0.38,2.71,2.0),(-0.36,2.70,2.0),(-2.71,2.55,2.3),
(-1.55,2.50,2.1),(-1.25,2.45,2.1),(-1.37,2.34,2.1),(-3.17,2.16,2.3),(-4.02,1.88,2.4),(-0.63,2.17,2.0),(-0.45,2.14,2.0),(-1.07,2.03,2.0),
(-1.25,1.88,2.0),(-1.61,1.69,2.1),(-1.47,1.69,2.1),(-1.70,1.56,2.1),(-1.21,1.49,2.0),(-0.80,1.88,2.0),(-0.18,1.49,1.9),
(-1.27,1.93,2.0),(-1.05,2.00,2.0),(-0.69,2.17,2.0),(-0.55,2.10,2.0),(-1.45,1.69,2.0),(-1.63,1.61,2.1),(-1.23,1.61,2.0),(-1.00,1.85,2.0),
(-0.78,1.85,2.0),(-0.64,1.85,1.9),(-0.51,1.85,1.9),(-0.82,1.69,1.9),(-0.60,1.69,1.9),(-0.42,1.67,1.9),(-1.14,1.58,2.0),(-0.91,1.51,1.9),
(-0.69,1.51,1.9),(-0.46,1.51,1.9),(-0.28,1.61,1.9),(-0.19,1.51,1.8),(-0.87,1.37,1.9),(-0.60,1.37,1.9),(-0.35,1.37,1.8),(-1.32,1.56,2.0),(-1.05,1.40,1.9),
]
D_up = [
(0.69,3.68,2.2),(1.00,3.28,2.2),(0.38,2.53,2.0),(0.65,2.53,2.1),(0.79,2.53,2.1),(0.22,2.34,2.0),(0.49,2.31,2.0),(0.73,2.22,2.0),
(1.37,2.05,2.2),(1.07,1.95,2.1),(1.12,1.82,2.1),(0.65,1.98,2.0),(0.80,1.98,2.0),(0.89,1.90,2.0),(1.36,1.44,2.1),(1.07,1.58,2.0),
(0.45,1.72,1.9),(1.70,5.20,2.2),(0.29,2.50,2.0),(0.21,1.87,1.9),(0.36,1.64,1.9),(0.26,1.56,1.9),(0.43,1.68,1.9),(0.52,1.56,1.9),
(0.30,1.40,1.8),(0.43,1.37,1.8),(0.70,1.46,1.9),(0.88,1.54,2.0),(0.21,1.35,1.8),(0.60,1.60,1.9),(0.35,1.50,1.8),(0.48,1.46,1.8),(0.30,1.33,1.8),
]
D_ns = [
(-1.74,1.15,1.4),(-1.20,1.22,1.3),(-0.95,1.16,1.3),(-0.78,1.25,1.3),(-0.63,1.18,1.2),(-0.50,1.24,1.2),(-0.38,1.15,1.2),(-0.27,1.23,1.1),
(-0.16,1.17,1.1),(-0.06,1.26,1.1),(0.05,1.19,1.1),(0.15,1.23,1.1),(0.26,1.15,1.2),(0.38,1.25,1.2),(0.50,1.18,1.2),(0.63,1.24,1.3),(0.78,1.16,1.3),(0.95,1.22,1.3),(1.15,1.17,1.4),
(-1.40,1.03,1.3),(-1.00,1.08,1.3),(-0.80,1.00,1.2),(-0.65,1.09,1.2),(-0.52,1.02,1.2),(-0.40,1.07,1.1),(-0.29,0.99,1.1),(-0.19,1.09,1.1),
(-0.09,1.02,1.0),(0.02,1.06,1.0),(0.12,1.00,1.0),(0.23,1.09,1.1),(0.34,1.02,1.1),(0.46,1.07,1.2),(0.60,0.99,1.2),(0.76,1.08,1.2),(0.95,1.01,1.3),(1.25,1.06,1.4),
(-1.15,0.88,1.3),(-0.85,0.93,1.2),(-0.67,0.86,1.2),(-0.53,0.94,1.1),(-0.41,0.87,1.1),(-0.30,0.92,1.1),(-0.20,0.85,1.0),(-0.11,0.93,1.0),
(-0.01,0.88,0.9),(0.09,0.92,0.9),(0.19,0.85,1.0),(0.30,0.94,1.0),(0.42,0.87,1.1),(0.56,0.91,1.1),(0.72,0.85,1.2),(0.90,0.93,1.2),(1.10,0.88,1.3),
(-0.90,0.73,1.2),(-0.65,0.78,1.1),(-0.50,0.71,1.1),(-0.38,0.77,1.0),(-0.27,0.70,1.0),(-0.17,0.78,0.9),(-0.08,0.72,0.9),(0.02,0.76,0.9),
(0.12,0.71,0.9),(0.22,0.78,0.9),(0.33,0.72,1.0),(0.46,0.77,1.0),(0.62,0.70,1.1),(0.82,0.76,1.2),(1.05,0.72,1.2),
(-0.68,0.58,1.1),(-0.47,0.63,1.0),(-0.35,0.56,1.0),(-0.24,0.62,0.9),(-0.15,0.57,0.9),(-0.06,0.63,0.8),(0.04,0.58,0.8),(0.13,0.62,0.8),
(0.23,0.56,0.9),(0.35,0.63,0.9),(0.50,0.57,1.0),(0.70,0.62,1.1),(0.92,0.56,1.1),
(-0.48,0.44,1.0),(-0.32,0.48,0.9),(-0.21,0.42,0.8),(-0.12,0.47,0.8),(-0.04,0.43,0.7),(0.05,0.48,0.7),(0.14,0.42,0.8),(0.24,0.47,0.8),
(0.36,0.43,0.9),(0.52,0.46,1.0),(0.75,0.42,1.0),
(-0.30,0.29,0.8),(-0.18,0.33,0.7),(-0.09,0.28,0.7),(-0.01,0.32,0.6),(0.08,0.29,0.6),(0.17,0.33,0.7),(0.28,0.28,0.7),(0.42,0.32,0.8),(0.62,0.30,0.9),
(-0.16,0.17,0.6),(-0.07,0.20,0.6),(0.02,0.16,0.5),(0.11,0.19,0.6),(0.22,0.17,0.6),(-0.07,0.07,0.5),(0.02,0.05,0.4),(0.11,0.08,0.5),
(-1.05,1.12,1.3),(-0.85,1.13,1.2),(-0.69,1.11,1.2),(-0.56,1.13,1.2),(-0.44,1.10,1.1),(-0.33,1.13,1.1),(-0.22,1.11,1.1),(-0.11,1.12,1.0),
(0.00,1.13,1.0),(0.10,1.11,1.0),(0.20,1.13,1.1),(0.32,1.10,1.1),(0.44,1.12,1.2),(0.57,1.13,1.2),(0.70,1.11,1.2),(0.86,1.12,1.3),(1.05,1.13,1.3),
(-0.90,0.97,1.2),(-0.72,0.96,1.2),(-0.58,0.98,1.1),(-0.46,0.96,1.1),(-0.35,0.97,1.0),(-0.24,0.96,1.0),(-0.14,0.98,1.0),(-0.04,0.96,0.9),
(0.07,0.97,0.9),(0.17,0.96,1.0),(0.28,0.98,1.0),(0.40,0.96,1.1),(0.52,0.97,1.1),(0.67,0.96,1.2),(0.85,0.98,1.2),(1.10,0.96,1.3),
(-0.75,0.82,1.1),(-0.58,0.81,1.1),(-0.45,0.83,1.0),(-0.33,0.81,1.0),(-0.23,0.82,0.9),(-0.13,0.81,0.9),(-0.03,0.83,0.9),(0.07,0.81,0.8),
(0.17,0.82,0.9),(0.27,0.81,0.9),(0.38,0.83,1.0),(0.51,0.81,1.0),(0.66,0.82,1.1),(0.85,0.81,1.1),(1.05,0.83,1.2),
(-0.58,0.67,1.0),(-0.42,0.66,1.0),(-0.30,0.68,0.9),(-0.20,0.66,0.9),(-0.11,0.67,0.8),(-0.02,0.66,0.8),(0.08,0.68,0.8),(0.18,0.66,0.8),
(0.29,0.67,0.9),(0.42,0.66,0.9),(0.58,0.68,1.0),(0.80,0.66,1.1),
(-0.40,0.52,0.9),(-0.27,0.51,0.8),(-0.17,0.53,0.8),(-0.08,0.51,0.7),(0.01,0.52,0.7),(0.10,0.51,0.7),(0.20,0.53,0.8),(0.31,0.51,0.8),
(0.45,0.52,0.9),(0.65,0.51,1.0),(0.88,0.53,1.0),
(-0.24,0.38,0.7),(-0.14,0.37,0.7),(-0.05,0.39,0.6),(0.04,0.37,0.6),(0.13,0.38,0.6),(0.23,0.37,0.7),(0.35,0.39,0.7),(0.52,0.37,0.8),
(-0.11,0.24,0.6),(-0.02,0.25,0.5),(0.07,0.23,0.5),(0.16,0.25,0.6),(0.27,0.24,0.6),
(3.08,1.17,1.5),(1.65,1.23,1.4),(1.88,1.15,1.4),(1.41,0.83,1.3),(1.79,0.52,1.3),(1.97,0.47,1.3),(1.21,0.83,1.3),(-2.50,0.71,1.4),
(-2.56,0.45,1.4),(-0.85,0.42,1.1),(-1.40,0.90,1.3),(-1.20,0.60,1.2),(1.50,1.00,1.4),(1.00,0.50,1.1),
]

VIP_MAX = {"A": 1.7, "B": 1.6, "C": 2.4, "D": 2.5}
X_TICKS = {"A": [-6, -3, 0, 3, 6], "B": [-6, -3, 0, 3, 6],
           "C": [-5, -2.5, 0, 2.5, 5], "D": [-4, -2, 0, 2, 4]}
X_TICKTEXT = {"A": ["-6", "-3", "0", "3", "6"], "B": ["-6", "-3", "0", "3", "6"],
              "C": ["-5.0", "-2.5", "0", "2.5", "5.0"], "D": ["-4", "-2", "0", "2", "4"]}
Y_TICKS = {"A": [0, 2, 4], "B": [0, 2, 4], "C": [0, 1, 2, 3, 4, 5], "D": [0, 1, 2, 3, 4, 5]}
P_CUT = 1.3
STATUS = ["Down-regulated", "Not significant", "Up-regulated"]

DATA = {"A": (A_down, A_up, A_ns), "B": (B_down, B_up, B_ns),
        "C": (C_down, C_up, C_ns), "D": (D_down, D_up, D_ns)}

# ---------------- styling / layout ----------------
W, H = 738, 480
FONT = "Arial, Liberation Sans, sans-serif"
TXT = "#1a1a1a"
BLUE, RED, GRAY = "#4A7FD0", "#EE5A52", "#A6A6A6"
COLORS = {"Down-regulated": BLUE, "Not significant": GRAY, "Up-regulated": RED}

PANELS = {
    "A": dict(box=(31, 361, 14, 197), xr=[-6.45, 6.5], yr=[-0.28, 5.66], vdx=5, lab=(7.5, 7), yt=9, xt=229),
    "B": dict(box=(409, 737, 14, 197), xr=[-6.17, 6.23], yr=[-0.29, 5.77], vdx=3.5, lab=(376, 7), yt=383, xt=229),
    "C": dict(box=(31, 361, 259.3, 441.7), xr=[-5.55, 5.6], yr=[-0.25, 5.24], vdx=5, lab=(7, 248), yt=9, xt=470),
    "D": dict(box=(408, 737, 259.3, 441.7), xr=[-4.4, 4.42], yr=[-0.26, 5.44], vdx=3.5, lab=(376, 248), yt=383, xt=470),
}


def px(x, y):
    return x / W, 1 - y / H


def msize(v, vmax):
    # area-proportional size scale (as in ggplot's scale_size)
    return 2.5 + 5.5 * (max(v, 0) / vmax) ** 0.5


fig = go.Figure()
shapes, annotations = [], []
layout_axes = {}

for i, (key, p) in enumerate(PANELS.items(), start=1):
    sfx = "" if i == 1 else str(i)
    xa, ya = "x" + sfx, "y" + sfx
    down, up, ns = DATA[key]
    vmax = VIP_MAX[key]
    for pts, status in ((ns, "Not significant"), (down, "Down-regulated"), (up, "Up-regulated")):
        fig.add_trace(go.Scatter(
            x=[q[0] for q in pts], y=[q[1] for q in pts], mode="markers",
            marker=dict(size=[msize(q[2], vmax) for q in pts], color=COLORS[status],
                        opacity=0.55 if status != "Not significant" else 0.5, line=dict(width=0)),
            xaxis=xa, yaxis=ya, showlegend=False, hoverinfo="skip", cliponaxis=True))

    L, R, T, B = p["box"]
    axcommon = dict(showgrid=False, zeroline=False, showline=True, linecolor="#333333", linewidth=1,
                    mirror=True, ticks="outside", ticklen=4, tickwidth=1, tickcolor="#333333",
                    tickfont=dict(family=FONT, size=11, color=TXT), automargin=False)
    layout_axes["xaxis" + sfx] = dict(axcommon, domain=[L / W, R / W], range=p["xr"], anchor=ya,
                                      tickvals=X_TICKS[key], ticktext=X_TICKTEXT[key])
    layout_axes["yaxis" + sfx] = dict(axcommon, domain=[1 - B / H, 1 - T / H], range=p["yr"], anchor=xa,
                                      tickvals=Y_TICKS[key], ticktext=[str(t) for t in Y_TICKS[key]])

    shapes.append(dict(type="line", xref=xa, yref=ya + " domain", x0=0, x1=0, y0=0, y1=1,
                       line=dict(color="#b5b5b5", width=1, dash="dot"), layer="below"))
    shapes.append(dict(type="line", xref=xa + " domain", yref=ya, x0=0, x1=1, y0=P_CUT, y1=P_CUT,
                       line=dict(color="#b5b5b5", width=1, dash="dot"), layer="below"))

    lx, ly = px(*p["lab"])
    annotations.append(dict(text="<b>%s</b>" % key, x=lx, y=ly, xref="paper", yref="paper",
                            xanchor="center", yanchor="middle", showarrow=False,
                            font=dict(family=FONT, size=14, color="#000")))
    cx, cy = px((L + R) / 2, p["xt"])
    annotations.append(dict(text="log<sub>2</sub> fold change", x=cx, y=cy, xref="paper", yref="paper",
                            xanchor="center", yanchor="middle", showarrow=False,
                            font=dict(family=FONT, size=11, color=TXT)))
    tx, ty = px(p["yt"], (T + B) / 2)
    annotations.append(dict(text="-log<sub>10</sub> <i>P</i>-value", x=tx, y=ty, xref="paper", yref="paper",
                            xanchor="center", yanchor="middle", textangle=-90, showarrow=False,
                            font=dict(family=FONT, size=11, color=TXT)))

    vdx = p["vdx"]
    ax_, ay_ = px(L + vdx, T + 6.5)
    annotations.append(dict(text="<b>VIP</b>", x=ax_, y=ay_, xref="paper", yref="paper", xanchor="left",
                            yanchor="middle", showarrow=False, font=dict(family=FONT, size=11, color="#000")))
    for vv, dy in ((0.0, 19.5), (vmax, 35)):
        d = msize(vv, vmax)
        cxp, cyp = px(L + vdx + 2, T + dy)
        shapes.append(dict(type="circle", xref="paper", yref="paper", xsizemode="pixel", ysizemode="pixel",
                           xanchor=cxp, yanchor=cyp, x0=-d / 2, x1=d / 2, y0=-d / 2, y1=d / 2,
                           fillcolor="#000", line=dict(width=0)))
        tx2, ty2 = px(L + vdx + 6.5 + (1.5 if vv == 0 else 0), T + dy)
        annotations.append(dict(text="%.1f" % vv, x=tx2, y=ty2, xref="paper", yref="paper", xanchor="left",
                                yanchor="middle", showarrow=False, font=dict(family=FONT, size=11, color=TXT)))

    sx, sy = px(R - 93, T + 7)
    annotations.append(dict(text="<b>Status</b>", x=sx, y=sy, xref="paper", yref="paper", xanchor="left",
                            yanchor="middle", showarrow=False, font=dict(family=FONT, size=11, color="#000")))
    for j, status in enumerate(STATUS):
        yy = T + 19.5 + 16.3 * j
        cxp, cyp = px(R - 91.5, yy)
        shapes.append(dict(type="circle", xref="paper", yref="paper", xsizemode="pixel", ysizemode="pixel",
                           xanchor=cxp, yanchor=cyp, x0=-3.2, x1=3.2, y0=-3.2, y1=3.2,
                           fillcolor=COLORS[status], opacity=0.6, line=dict(width=0)))
        tx3, ty3 = px(R - 82, yy)
        annotations.append(dict(text=status, x=tx3, y=ty3, xref="paper", yref="paper", xanchor="left",
                                yanchor="middle", showarrow=False, font=dict(family=FONT, size=11, color=TXT)))

fig.update_layout(width=W, height=H, autosize=False, margin=dict(l=0, r=0, t=0, b=0),
                  paper_bgcolor="white", plot_bgcolor="white", shapes=shapes, annotations=annotations,
                  font=dict(family=FONT, size=11, color=TXT), **layout_axes)

fig.write_html("out.html", config={"displayModeBar": False},
               post_script="document.body.style.margin='0';document.body.style.overflow='hidden';")
